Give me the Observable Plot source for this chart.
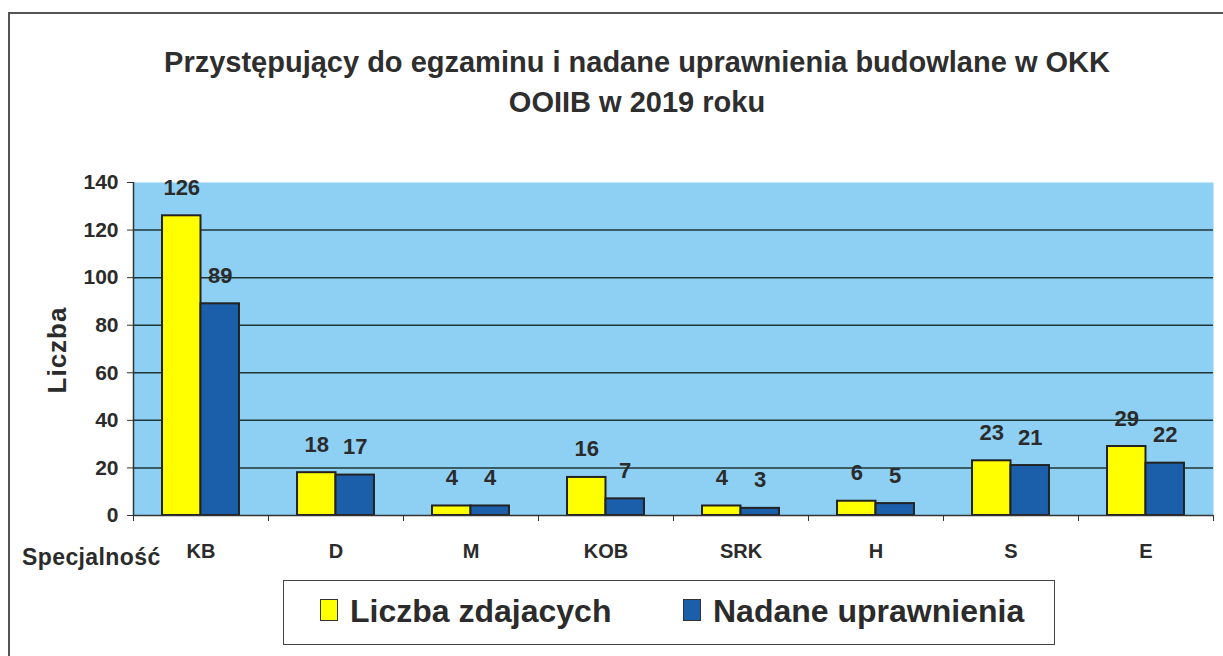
<!DOCTYPE html>
<html><head><meta charset="utf-8">
<script src="https://cdn.jsdelivr.net/npm/d3@7"></script>
<script src="https://cdn.jsdelivr.net/npm/@observablehq/plot@0.6"></script>
<style>
body{margin:0;background:#fff;font-family:"Liberation Sans",Arial,Helvetica,sans-serif;color:#2b2b2b;}
#page{position:relative;width:1223px;height:656px;overflow:hidden;background:#fff;}
#border{position:absolute;left:8px;top:12px;width:1300px;height:700px;border:2px solid #555;box-sizing:border-box;}
#title{position:absolute;left:0;top:42px;width:1274px;text-align:center;font-weight:bold;font-size:29px;line-height:40px;color:#2e2e2e;}
#chart{position:absolute;left:0;top:140px;}
#ylabel{position:absolute;left:57px;top:350px;transform:translate(-50%,-50%) rotate(-90deg);font-weight:bold;font-size:26px;letter-spacing:1px;white-space:nowrap;color:#2b2b2b;}
#xlabel{position:absolute;left:22px;top:544px;font-weight:bold;font-size:23px;letter-spacing:0.4px;white-space:nowrap;color:#2b2b2b;}
#legend{position:absolute;left:283px;top:580px;width:772px;height:65px;border:1.5px solid #444;box-sizing:border-box;background:#fff;}
.sw{position:absolute;top:18px;width:18px;height:22px;border:1.5px solid #333;box-sizing:border-box;}
.lt{position:absolute;top:10px;font-weight:bold;font-size:32px;line-height:40px;white-space:nowrap;color:#2b2b2b;}
</style></head><body>
<div id="page">
  <div id="border"></div>
  <div id="title">Przystępujący do egzaminu i nadane uprawnienia budowlane w OKK<br>OOIIB w 2019 roku</div>
  <div id="chart"></div>
  <div id="ylabel">Liczba</div>
  <div id="xlabel">Specjalność</div>
  <div id="legend"></div>
</div>
<script>
const categories = ["KB", "D", "M", "KOB", "SRK", "H", "S", "E"];
const seriesNames = ["Liczba zdajacych", "Nadane uprawnienia"];
const zdajacych = [126, 18, 4, 16, 4, 6, 23, 29];
const nadane = [89, 17, 4, 7, 3, 5, 21, 22];
const yTicks = [0, 20, 40, 60, 80, 100, 120, 140];
const colors = ["#ffff00", "#1b5fab"];

const seriesValues = [zdajacych, nadane];
const rows = categories.flatMap((c, i) => seriesValues.map((vals, s) => ({cat: c, i, s, series: seriesNames[s], value: vals[i]})));
const barStart = [0.215, 0.5];
const barEnd = [0.5, 0.785];

const chart = Plot.plot({
  width: 1223,
  height: 440,
  marginLeft: 133,
  marginRight: 10,
  marginTop: 42,
  marginBottom: 65,
  x: {domain: [0, categories.length]},
  y: {domain: [0, 140]},
  color: {domain: seriesNames, range: colors},
  style: {fontFamily: '"Liberation Sans", Arial, sans-serif', color: "#2b2b2b", background: "transparent", overflow: "visible"},
  marks: [
    Plot.frame({fill: "#8ed0f3", stroke: null}),
    Plot.ruleY(yTicks.filter(t => t > 0 && t < 140), {stroke: "#1f3636", strokeWidth: 1.5}),
    Plot.rectY(rows, {
      x1: d => d.i + barStart[d.s],
      x2: d => d.i + barEnd[d.s],
      y1: 0, y2: "value",
      fill: "series", stroke: "#222", strokeWidth: 2
    }),
    Plot.ruleY([0], {stroke: "#333", strokeWidth: 1.5}),
    Plot.ruleX([0], {stroke: "#333", strokeWidth: 1.5}),
    Plot.axisY({ticks: yTicks, tickSize: 6, tickPadding: 9, fontSize: 21, fontWeight: "bold", label: null, stroke: "#333"}),
    Plot.axisX({ticks: d3.range(categories.length + 1), tickSize: 6, tickFormat: () => "", label: null, stroke: "#333"}),
    Plot.axisX({ticks: categories.map((c, i) => i + 0.5), tickSize: 0, tickPadding: 28, tickFormat: v => categories[Math.floor(v)], fontSize: 20, fontWeight: "bold", label: null}),
    Plot.text(rows, {
      x: d => d.i + (barStart[d.s] + barEnd[d.s]) / 2,
      y: "value",
      text: d => String(d.value),
      dy: -28, fontSize: 22, fontWeight: "bold", fill: "#2b2b2b"
    })
  ]
});
document.getElementById("chart").appendChild(chart);

// legend from the series
const legend = document.getElementById("legend");
const swX = [36, 399];
const txX = [66, 429];
seriesNames.forEach((name, s) => {
  const sw = document.createElement("div");
  sw.className = "sw";
  sw.style.left = swX[s] + "px";
  sw.style.background = colors[s];
  legend.appendChild(sw);
  const t = document.createElement("div");
  t.className = "lt";
  t.style.left = txX[s] + "px";
  t.textContent = name;
  legend.appendChild(t);
});
</script>
</body></html>
